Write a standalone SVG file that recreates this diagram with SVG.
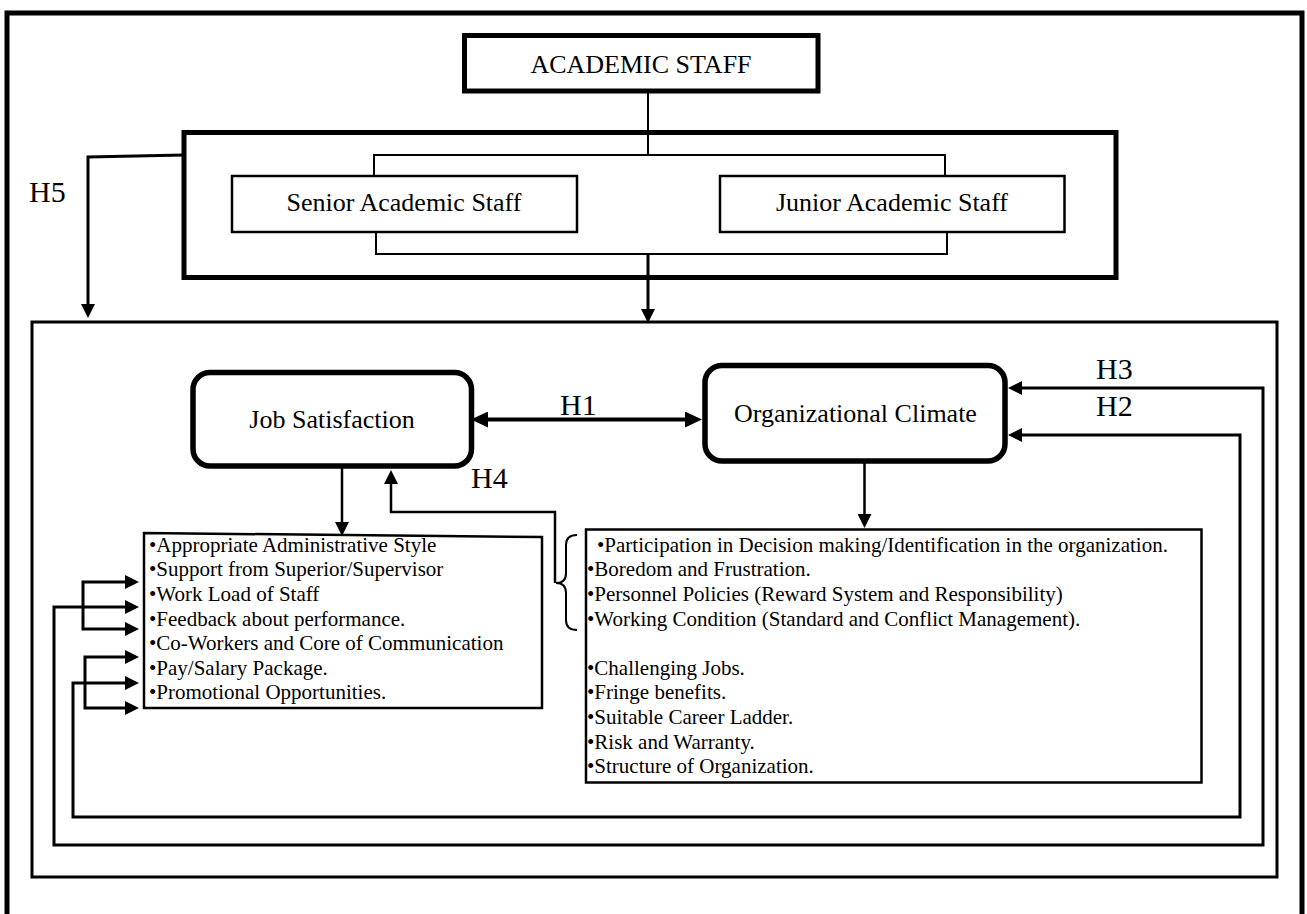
<svg xmlns="http://www.w3.org/2000/svg" width="1307" height="914" viewBox="0 0 1307 914">
<style>
.box{fill:#fff;stroke:#000}
.t{font-family:"Liberation Serif","Times New Roman",serif;fill:#000}
.ln{fill:none;stroke:#000}
.lbl{font-size:30px}
.item{font-size:21px}
.title{font-size:26px;text-anchor:middle}
</style>
<defs>
<marker id="ah" viewBox="0 0 14 14" markerWidth="14" markerHeight="14" refX="1" refY="7" orient="auto-start-reverse" markerUnits="userSpaceOnUse"><path d="M0,0L14,7L0,14z"/></marker>
<marker id="ahL" viewBox="0 0 17 16" markerWidth="17" markerHeight="16" refX="1" refY="8" orient="auto-start-reverse" markerUnits="userSpaceOnUse"><path d="M0,0L17,8L0,16z"/></marker>
</defs>
<rect width="1307" height="914" fill="#fff"/>
<g id="frames">
<path class="ln" d="M7,914V13H1302V914" stroke-width="5"/>
<rect class="ln" x="32" y="322" width="1245" height="555" stroke-width="3"/>
</g>
<g id="academic-staff">
<rect class="box" x="464.5" y="35.5" width="353.5" height="55.5" stroke-width="5"/>
<text class="t title" x="641" y="73">ACADEMIC STAFF</text>
</g>
<g id="staff-group">
<rect class="ln" x="184" y="132.5" width="932" height="145" stroke-width="5"/>
</g>
<g id="senior">
<rect class="box" x="232" y="176" width="345" height="56" stroke-width="2.5"/>
<text class="t title" x="404" y="211">Senior Academic Staff</text>
</g>
<g id="junior">
<rect class="box" x="720" y="176" width="344.5" height="56" stroke-width="2.5"/>
<text class="t title" x="892" y="211">Junior Academic Staff</text>
</g>
<g id="job-satisfaction">
<rect class="box" x="193" y="372.5" width="278.5" height="93.5" rx="17" stroke-width="5.5"/>
<text class="t title" x="332" y="428">Job Satisfaction</text>
</g>
<g id="org-climate">
<rect class="box" x="705" y="365.5" width="300" height="95.5" rx="17" stroke-width="5.5"/>
<text class="t title" x="855.5" y="421.5">Organizational Climate</text>
</g>
<g id="job-factors">
<path class="box" d="M144,533L542,537V708H144Z" stroke-width="2.5"/>
<text class="t item" x="149" y="551.7">•Appropriate Administrative Style</text>
<text class="t item" x="149" y="576.3">•Support from Superior/Supervisor</text>
<text class="t item" x="149" y="600.9">•Work Load of Staff</text>
<text class="t item" x="149" y="625.5">•Feedback about performance.</text>
<text class="t item" x="149" y="650.1">•Co-Workers and Core of Communication</text>
<text class="t item" x="149" y="674.7">•Pay/Salary Package.</text>
<text class="t item" x="149" y="699.3">•Promotional Opportunities.</text>
</g>
<g id="climate-factors">
<rect class="box" x="586" y="529.5" width="615.5" height="253" stroke-width="2.5"/>
<text class="t item" x="597" y="551.7">•Participation in Decision making/Identification in the organization.</text>
<text class="t item" x="587" y="576.3">•Boredom and Frustration.</text>
<text class="t item" x="587" y="600.9">•Personnel Policies (Reward System and Responsibility)</text>
<text class="t item" x="587" y="625.5">•Working Condition (Standard and Conflict Management).</text>
<text class="t item" x="587" y="674.7">•Challenging Jobs.</text>
<text class="t item" x="587" y="699.3">•Fringe benefits.</text>
<text class="t item" x="587" y="723.9">•Suitable Career Ladder.</text>
<text class="t item" x="587" y="748.5">•Risk and Warranty.</text>
<text class="t item" x="587" y="773.1">•Structure of Organization.</text>
</g>
<g id="connectors">
<path class="ln" d="M648,91V155" stroke-width="2"/>
<path class="ln" d="M374,176V155H945V176" stroke-width="2"/>
<path class="ln" d="M376,232V254H947V232" stroke-width="2"/>
<path class="ln" d="M648,254V310" stroke-width="3" marker-end="url(#ah)"/>
<path class="ln" d="M184,155L88,157V305" stroke-width="3" marker-end="url(#ah)"/>
<path class="ln" d="M487,419.5H686" stroke-width="4" marker-start="url(#ahL)" marker-end="url(#ahL)"/>
<path class="ln" d="M342,468V523" stroke-width="2.5" marker-end="url(#ah)"/>
<path class="ln" d="M864.5,463V515" stroke-width="2.5" marker-end="url(#ah)"/>
<path class="ln" d="M577,535Q566,535 566,545V573Q566,583 556,583Q566,583 566,593V620Q566,630 577,630" stroke-width="2"/>
<path class="ln" d="M555,583V512H391V483" stroke-width="2.5" marker-end="url(#ah)"/>
<path class="ln" d="M126,582H83V629H126" stroke-width="3" marker-start="url(#ah)" marker-end="url(#ah)"/>
<path class="ln" d="M126,607H54V845H1263V388H1021" stroke-width="3" marker-start="url(#ah)" marker-end="url(#ah)"/>
<path class="ln" d="M126,657H85V708H126" stroke-width="3" marker-start="url(#ah)" marker-end="url(#ah)"/>
<path class="ln" d="M126,683H73V817H1240V435H1021" stroke-width="3" marker-start="url(#ah)" marker-end="url(#ah)"/>
<text class="t lbl" x="29" y="202">H5</text>
<text class="t lbl" x="560" y="415">H1</text>
<text class="t lbl" x="471" y="488">H4</text>
<text class="t lbl" x="1096" y="379">H3</text>
<text class="t lbl" x="1096" y="416">H2</text>
</g>
</svg>
